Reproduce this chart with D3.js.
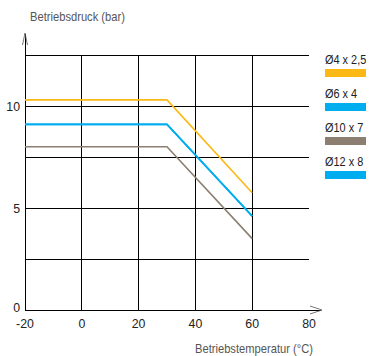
<!DOCTYPE html>
<html><head><meta charset="utf-8">
<script src="https://cdn.jsdelivr.net/npm/d3@7"></script>
<style>
html,body{margin:0;padding:0;background:#fff;}
svg{display:block;}
text{font-family:"Liberation Sans Narrow","Arial Narrow","Liberation Sans",Arial,sans-serif;}
</style></head>
<body>
<svg id="c" width="369" height="356"></svg>
<script>
const temps = [-20, 30, 60];
const seriesNames = ["Ø4 x 2,5", "Ø6 x 4", "Ø10 x 7", "Ø12 x 8"];
const s1 = [10.3, 10.3, 5.75];
const s2 = [9.1, 9.1, 4.6];
const s3 = [8.0, 8.0, 3.5];
const s4 = [9.1, 9.1, 4.6];
const colors = ["#fcb814", "#00adef", "#8c7f72", "#00adef"];
const xTicks = [-20, 0, 20, 40, 60, 80];
const yGrid = [0, 2.5, 5, 7.5, 10, 12.5];
const yLabels = [0, 5, 10];
const xTitle = "Betriebstemperatur (°C)";
const yTitle = "Betriebsdruck (bar)";

const svg = d3.select("#c");
const x = d3.scaleLinear().domain([-20, 80]).range([25, 309]);
const y = d3.scaleLinear().domain([0, 12.5]).range([310, 55]);
const SX = 0.86;
function txt(parent, tx, ty, s, opts) {
  const t = parent.append("text")
    .attr("transform", `translate(${tx},${ty}) scale(${opts.sx || SX},1)`)
    .attr("font-size", opts.size || 13).attr("fill", opts.fill || "#222")
    .attr("text-anchor", opts.anchor || "start").text(s);
  return t;
}

// grid
const g = svg.append("g");
g.selectAll("line.h").data(yGrid.slice(1)).enter().append("line")
  .attr("x1", x(-20)).attr("x2", x(80)).attr("y1", d => y(d)).attr("y2", d => y(d))
  .attr("stroke", "#000").attr("stroke-width", 1).attr("shape-rendering", "crispEdges");
g.selectAll("line.v").data(xTicks.slice(1, -1)).enter().append("line")
  .attr("x1", d => x(d)).attr("x2", d => x(d)).attr("y1", y(0)).attr("y2", y(12.5))
  .attr("stroke", "#000").attr("stroke-width", 1).attr("shape-rendering", "crispEdges");

// axes
g.append("line").attr("x1", x(-20)).attr("x2", x(-20)).attr("y1", y(0)).attr("y2", 34)
  .attr("stroke", "#000").attr("shape-rendering", "crispEdges");
g.append("line").attr("x1", x(-20)).attr("x2", 321).attr("y1", y(0)).attr("y2", y(0))
  .attr("stroke", "#000").attr("shape-rendering", "crispEdges");
g.append("path").attr("d", `M${x(-20)-2.5},45 L${x(-20)},33 L${x(-20)+2.5},45`)
  .attr("fill", "none").attr("stroke", "#555").attr("stroke-width", 0.8);
g.append("path").attr("d", `M310,${y(0)-4} L322,${y(0)} L310,${y(0)+4}`)
  .attr("fill", "none").attr("stroke", "#555").attr("stroke-width", 0.8);

// tick labels
xTicks.forEach(d => txt(g, x(d), 328, d, {anchor: "middle", sx: 0.95}));
yLabels.forEach(d => txt(g, 20, d === 0 ? y(d) + 2 : y(d) + 4.5, d, {anchor: "end", sx: 0.95}));

// titles
txt(g, 30, 21, yTitle, {fill: "#555"});
txt(g, 313, 353, xTitle, {fill: "#555", anchor: "end"});

// lines
const allSeries = [s1, s2, s3, s4];
const line = d3.line().x((d, i) => x(temps[i])).y(d => y(d));
svg.append("g").selectAll("path").data(allSeries.map((s, i) => ({s, i})).reverse()).enter().append("path")
  .attr("d", d => line(d.s)).attr("fill", "none").attr("stroke", d => colors[d.i]).attr("stroke-width", 1.6);

// legend
const lg = svg.append("g");
seriesNames.forEach((n, i) => {
  const ty = 64 + i * 34;
  txt(lg, 325, ty, n, {size: 13, sx: 0.84});
  lg.append("rect").attr("x", 325).attr("y", ty + 5).attr("width", 41).attr("height", 8).attr("fill", colors[i]);
});
</script>
</body></html>
